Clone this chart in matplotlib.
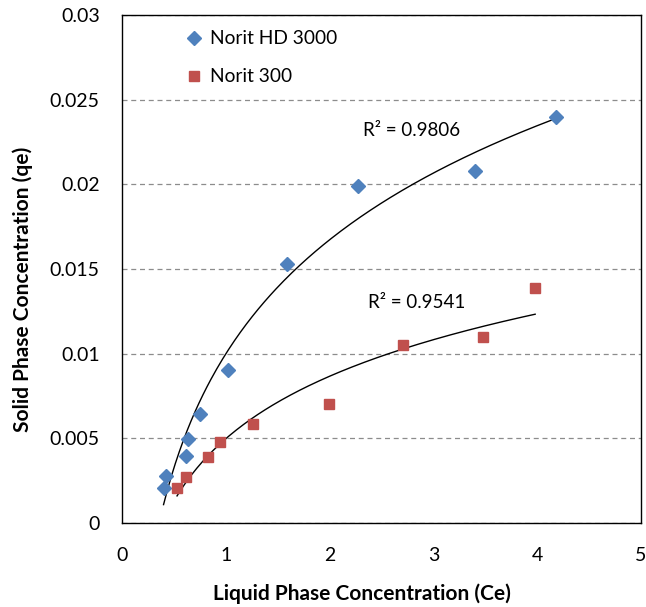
import numpy as np
import matplotlib.pyplot as plt

plt.rcParams['font.family'] = ['Lato', 'DejaVu Sans']

# Norit HD 3000 (blue diamonds)
hd_ce = [0.40, 0.42, 0.62, 0.64, 0.75, 1.02, 1.59, 2.27, 3.40, 4.18]
hd_qe = [0.00207, 0.00278, 0.00396, 0.00496, 0.00644, 0.00904, 0.0153, 0.0199, 0.0208, 0.0240]

# Norit 300 (red squares)
n3_ce = [0.53, 0.62, 0.83, 0.94, 1.26, 1.99, 2.71, 3.48, 3.98]
n3_qe = [0.00207, 0.00272, 0.00390, 0.00478, 0.00585, 0.00703, 0.0105, 0.0110, 0.0139]

r2_labels = ["R\u00b2 = 0.9806", "R\u00b2 = 0.9541"]

fig = plt.figure(figsize=(6.46, 6.07), dpi=100)
ax = fig.add_axes([0.1889, 0.1384, 0.8034, 0.8369])

ax.plot(hd_ce, hd_qe, linestyle='none', marker='D', markersize=7,
        color='#4F81BD', label='Norit HD 3000', zorder=3)
ax.plot(n3_ce, n3_qe, linestyle='none', marker='s', markersize=7.5,
        color='#C0504D', label='Norit 300', zorder=3)

# logarithmic trend lines (like excel)
for xs, ys in [(hd_ce, hd_qe), (n3_ce, n3_qe)]:
    xs = np.array(xs)
    a, b = np.polyfit(np.log(xs), ys, 1)
    xx = np.linspace(xs.min(), xs.max(), 200)
    ax.plot(xx, a * np.log(xx) + b, color='black', linewidth=1.0, zorder=2)

ax.text(2.79, 0.0232, r2_labels[0], ha='center', va='center', fontsize=13.5)
ax.text(2.84, 0.01305, r2_labels[1], ha='center', va='center', fontsize=13.5)

ax.set_xlim(0, 5)
ax.set_ylim(0, 0.03)
ax.set_xticks([0, 1, 2, 3, 4, 5])
ax.set_yticks([0, 0.005, 0.01, 0.015, 0.02, 0.025, 0.03])
ax.set_yticklabels(['0', '0.005', '0.01', '0.015', '0.02', '0.025', '0.03'])
ax.tick_params(length=0, labelsize=14)
ax.tick_params(axis='y', pad=16)
ax.tick_params(axis='x', pad=17)
ax.grid(axis='y', linestyle=(0, (4, 3)), color='#8c8c8c', linewidth=0.9)
for s in ax.spines.values():
    s.set_color('black')
    s.set_linewidth(1.0)

ax.set_xlabel('Liquid Phase Concentration (Ce)', fontsize=15, fontweight='bold')
ax.set_ylabel('Solid Phase Concentration (qe)', fontsize=15, fontweight='bold')
ax.xaxis.set_label_coords(0.462, -0.118)
ax.yaxis.set_label_coords(-0.171, 0.459)

ax.legend(loc='upper left', bbox_to_anchor=(0.084, 1.004), frameon=False,
          fontsize=13.8, handlelength=1.2, handletextpad=0.2, labelspacing=1.1)

fig.savefig('out.png', dpi=100)
